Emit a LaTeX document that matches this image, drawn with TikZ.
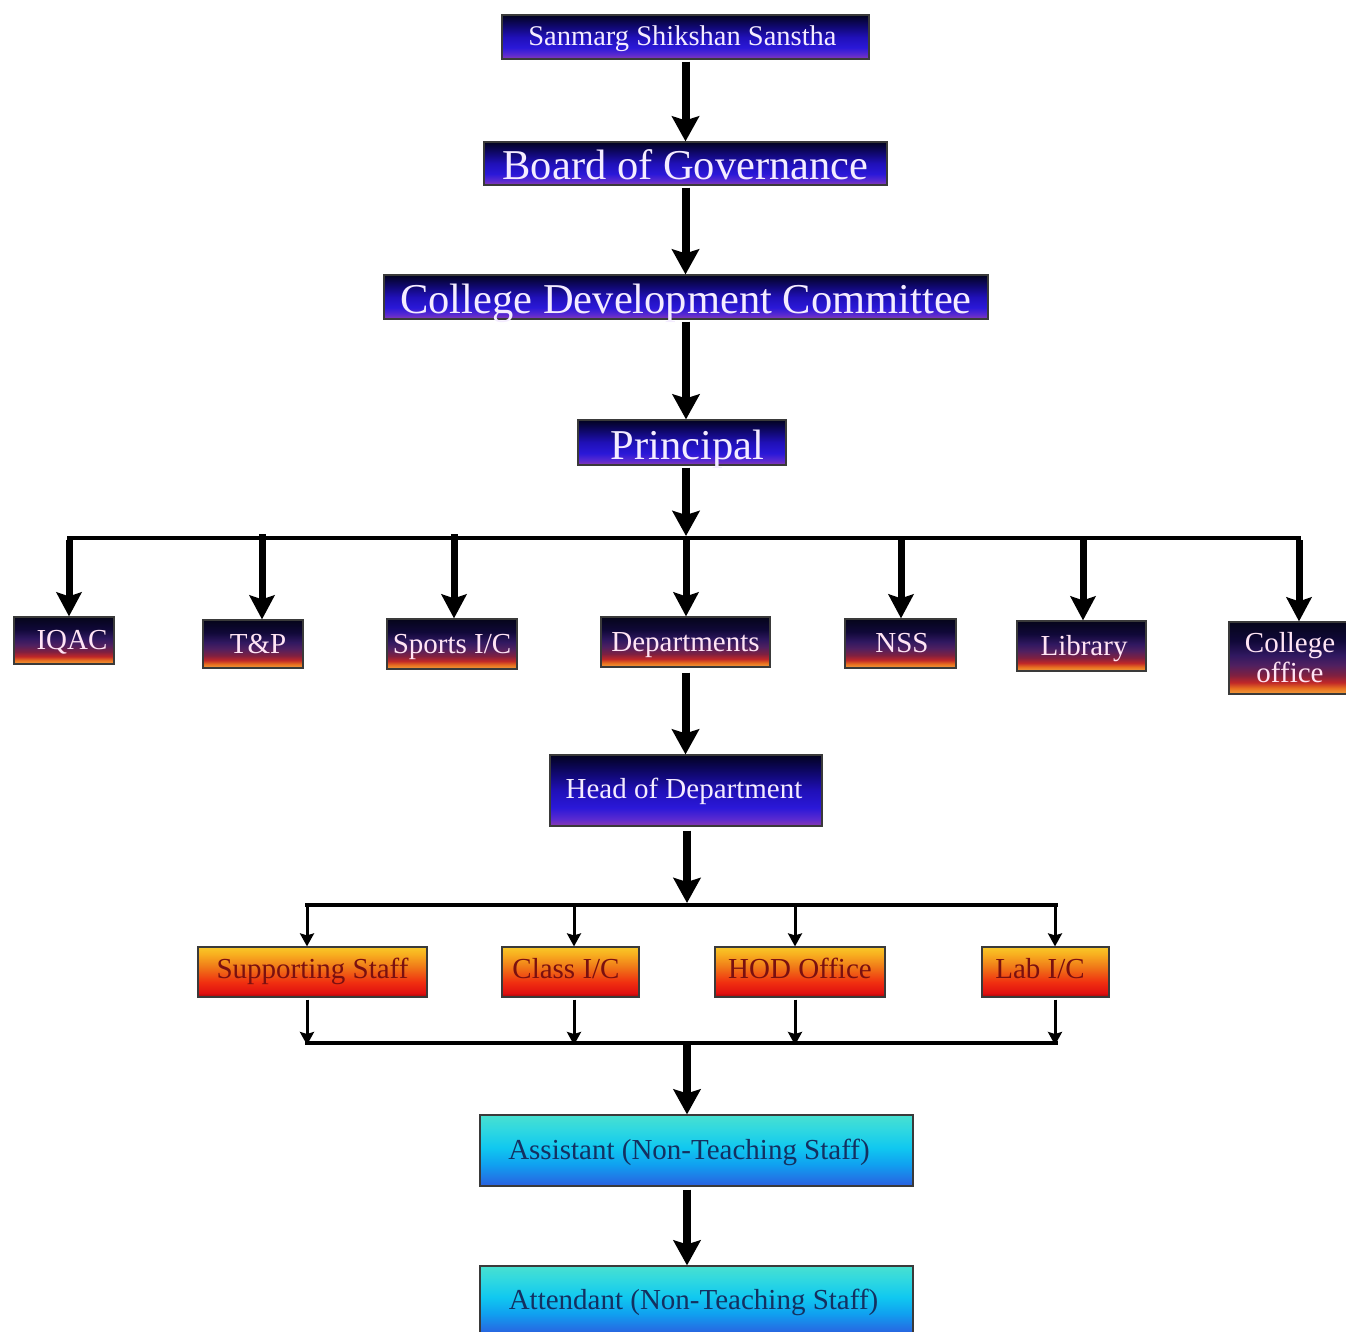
\documentclass[tikz,border=0pt]{standalone}
\usepackage{fontspec}
\setmainfont{Liberation Serif}
\usetikzlibrary{arrows.meta}
% top (navy/blue/purple) boxes
\definecolor{tpA}{HTML}{8A3AB0}
\definecolor{tpB}{HTML}{5A2AD0}
\definecolor{tpC}{HTML}{2A18D8}
\definecolor{tpD}{HTML}{2010B8}
\definecolor{tpE}{HTML}{100870}
\definecolor{tpF}{HTML}{020220}
% sunset boxes
\definecolor{snA}{HTML}{F0A040}
\definecolor{snB}{HTML}{E87020}
\definecolor{snC}{HTML}{C02828}
\definecolor{snD}{HTML}{802040}
\definecolor{snE}{HTML}{502060}
\definecolor{snF}{HTML}{301860}
\definecolor{snG}{HTML}{100838}
\definecolor{snH}{HTML}{05051A}
% fire boxes
\definecolor{frA}{HTML}{A00808}
\definecolor{frB}{HTML}{E01010}
\definecolor{frC}{HTML}{F03010}
\definecolor{frD}{HTML}{F07818}
\definecolor{frE}{HTML}{F8B020}
\definecolor{frF}{HTML}{F8C828}
% teal boxes
\definecolor{tlA}{HTML}{2A60E0}
\definecolor{tlB}{HTML}{10A0F0}
\definecolor{tlC}{HTML}{10C8F0}
\definecolor{tlD}{HTML}{30D8E0}
\definecolor{tlE}{HTML}{48E0D0}
% text and lines
\definecolor{txtTop}{HTML}{F4ECFF}
\definecolor{txtSun}{HTML}{FFE4F4}
\definecolor{txtFire}{HTML}{7A1010}
\definecolor{txtTeal}{HTML}{143060}
\definecolor{boxline}{HTML}{3A3A3A}
\pgfdeclareverticalshading{topshade}{100bp}{color(0bp)=(tpA); color(25bp)=(tpA); color(30bp)=(tpB); color(38bp)=(tpC); color(50bp)=(tpD); color(62bp)=(tpE); color(75bp)=(tpF); color(100bp)=(tpF)}
\pgfdeclareverticalshading{sunshade}{100bp}{color(0bp)=(snA); color(25bp)=(snA); color(29bp)=(snB); color(33bp)=(snC); color(38bp)=(snD); color(45bp)=(snE); color(52bp)=(snF); color(62bp)=(snG); color(75bp)=(snH); color(100bp)=(snH)}
\pgfdeclareverticalshading{fireshade}{100bp}{color(0bp)=(frA); color(25bp)=(frA); color(29bp)=(frB); color(40bp)=(frC); color(55bp)=(frD); color(68bp)=(frE); color(75bp)=(frF); color(100bp)=(frF)}
\pgfdeclareverticalshading{tealshade}{100bp}{color(0bp)=(tlA); color(25bp)=(tlA); color(40bp)=(tlB); color(52bp)=(tlC); color(65bp)=(tlD); color(75bp)=(tlE); color(100bp)=(tlE)}
\tikzset{
  box/.style={draw=boxline, line width=1.2pt, inner sep=0pt, align=center, text depth=0pt},
  topbox/.style={box, shading=topshade, text=txtTop},
  sunbase/.style={draw=boxline, line width=1.2pt, inner sep=0pt, align=center, shading=sunshade, text=txtSun, font=\fontsize{29}{30}\selectfont},
  sunbox/.style={box, shading=sunshade, text=txtSun, font=\fontsize{29}{30}\selectfont, text height=18pt},
  firebox/.style={box, shading=fireshade, text=txtFire, font=\fontsize{29}{30}\selectfont, text height=13pt},
  tealbox/.style={box, shading=tealshade, text=txtTeal, font=\fontsize{29}{30}\selectfont, text height=18pt},
  bigfont/.style={font=\fontsize{42.5}{44}\selectfont, text height=33pt},
  bigarrow/.style={line width=8pt, -{Stealth[width=27pt,length=25pt,inset=4pt]}},
  droparrow/.style={line width=7pt, -{Stealth[width=25pt,length=24pt,inset=4pt]}},
  thinarrow/.style={line width=3pt, -{Stealth[width=14pt,length=13pt,inset=2pt]}},
  busline/.style={line width=4pt, line cap=rect},
}
\begin{document}
\begin{tikzpicture}[x=1pt,y=-1pt]
\useasboundingbox (0,0) rectangle (1346,1332);
\fill[white] (0,0) rectangle (1346,1332);

% top chain
\node[topbox, minimum width=367pt, minimum height=44pt, font=\fontsize{28.5}{30}\selectfont, text height=18pt] (ss) at (685.5,37) {Sanmarg Shikshan Sanstha\hspace*{6pt}};
\node[topbox, bigfont, minimum width=403pt, minimum height=43pt] (bog) at (685.5,163.5) {Board of Governance};
\node[topbox, bigfont, minimum width=604pt, minimum height=44pt] (cdc) at (686,297) {College Development Committee};
\node[topbox, bigfont, minimum width=208pt, minimum height=45pt] (pri) at (682,442.5) {\hspace*{11pt}Principal};

% first row
\node[sunbox, minimum width=100pt, minimum height=47pt] (iqac) at (64,640.5) {\hspace*{16pt}IQAC};
\node[sunbox, minimum width=100pt, minimum height=48pt] (tp) at (253,644) {\hspace*{10pt}T\&P};
\node[sunbox, minimum width=130pt, minimum height=50pt] (sports) at (452,644) {Sports I/C};
\node[sunbox, minimum width=169pt, minimum height=50pt] (dept) at (685.5,642) {Departments};
\node[sunbox, minimum width=111pt, minimum height=49pt] (nss) at (900.5,643.5) {\hspace*{3pt}NSS};
\node[sunbox, minimum width=129pt, minimum height=50pt] (lib) at (1081.5,646) {\hspace*{5pt}Library};
\node[sunbase, minimum width=122pt, minimum height=72pt] (coff) at (1290,658) {College\\office};

% head of department
\node[topbox, minimum width=272pt, minimum height=71pt, font=\fontsize{29}{30}\selectfont, text height=16pt] (hod) at (686,790.5) {Head of Department\hspace*{4pt}};

% second row
\node[firebox, minimum width=229pt, minimum height=50pt] (sup) at (312.5,972) {Supporting Staff};
\node[firebox, minimum width=137pt, minimum height=50pt] (cls) at (570.5,972) {Class I/C\hspace*{9pt}};
\node[firebox, minimum width=170pt, minimum height=50pt] (hodo) at (800,972) {HOD Office};
\node[firebox, minimum width=127pt, minimum height=50pt] (lab) at (1045.5,972) {Lab I/C\hspace*{11pt}};

% non-teaching staff
\node[tealbox, minimum width=433pt, minimum height=71pt] (asst) at (696.5,1150.5) {Assistant (Non-Teaching Staff)\hspace*{15pt}};
\node[tealbox, minimum width=433pt, minimum height=68pt] (att) at (696.5,1300) {Attendant (Non-Teaching Staff)\hspace*{6pt}};

% junction coordinates
\coordinate (b1L) at (69,538);
\coordinate (b1R) at (1299,538);
\coordinate (b1P) at (686,536);
\coordinate (dIQ) at (69,538);
\coordinate (dTP) at (262,538);
\coordinate (dSP) at (454,538);
\coordinate (dDE) at (686,538);
\coordinate (dNS) at (901,538);
\coordinate (dLI) at (1083,538);
\coordinate (dCO) at (1299,538);
\coordinate (b2L) at (307,905);
\coordinate (b2R) at (1056,905);
\coordinate (b2H) at (687,903);
\coordinate (b3L) at (307,1043);
\coordinate (b3R) at (1056,1043);
\coordinate (b3A) at (687,1043);
\coordinate (xSup) at (307,905);
\coordinate (xCls) at (574,905);
\coordinate (xHod) at (795,905);
\coordinate (xLab) at (1055,905);

% connectors: top chain
\draw[bigarrow, shorten <=2pt] (ss.south) -- (bog.north);
\draw[bigarrow, shorten <=2pt] (bog.south) -- (bog.south |- cdc.north);
\draw[bigarrow, shorten <=2pt] (cdc.south) -- (cdc.south |- pri.north);
\draw[bigarrow, shorten <=2pt] (b1P |- pri.south) -- (b1P);

% bus 1 and drops
\draw[busline] (b1L) -- (b1R);
\draw[droparrow] ([yshift=-2pt]dIQ) -- (dIQ |- iqac.north);
\draw[droparrow] ([yshift=4pt]dTP) -- (dTP |- tp.north);
\draw[droparrow] ([yshift=4pt]dSP) -- (dSP |- sports.north);
\draw[droparrow] ([yshift=2pt]dDE) -- (dDE |- dept.north);
\draw[droparrow] ([yshift=2pt]dNS) -- (dNS |- nss.north);
\draw[droparrow] ([yshift=2pt]dLI) -- (dLI |- lib.north);
\draw[droparrow] ([yshift=-2pt]dCO) -- (dCO |- coff.north);

% departments -> HOD
\draw[bigarrow, shorten <=5pt] (dept.south) -- (dept.south |- hod.north);
\draw[bigarrow, shorten <=4pt] (b2H |- hod.south) -- (b2H);

% bus 2 and thin arrows
\draw[busline] (b2L) -- (b2R);
\draw[thinarrow] (xSup) -- (xSup |- sup.north);
\draw[thinarrow] (xCls) -- (xCls |- cls.north);
\draw[thinarrow] (xHod) -- (xHod |- hodo.north);
\draw[thinarrow] (xLab) -- (xLab |- lab.north);
\draw[thinarrow, shorten <=2pt] (xSup |- sup.south) -- ([yshift=-2pt]xSup |- b3L);
\draw[thinarrow, shorten <=2pt] (xCls |- cls.south) -- ([yshift=-2pt]xCls |- b3L);
\draw[thinarrow, shorten <=2pt] (xHod |- hodo.south) -- ([yshift=-2pt]xHod |- b3L);
\draw[thinarrow, shorten <=2pt] (xLab |- lab.south) -- ([yshift=-2pt]xLab |- b3L);

% bus 3 and final chain
\draw[busline] (b3L) -- (b3R);
\draw[bigarrow] (b3A) -- (b3A |- asst.north);
\draw[bigarrow, shorten <=3pt] (b3A |- asst.south) -- (b3A |- att.north);
\end{tikzpicture}
\end{document}
